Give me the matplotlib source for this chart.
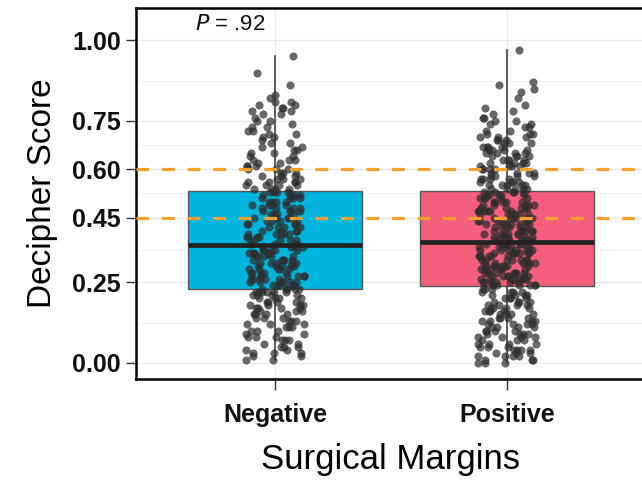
import numpy as np
import matplotlib
matplotlib.use("Agg")
import matplotlib.pyplot as plt

# Decipher scores, grouped by surgical margin status
groups = ["Negative", "Positive"]

negative_scores = [
    0.01, 0.01, 0.02, 0.02, 0.03, 0.03, 0.03, 0.04, 0.04, 0.05, 0.05, 0.05, 0.06, 0.06,
    0.07, 0.07, 0.07, 0.08, 0.08, 0.08, 0.09, 0.09, 0.10, 0.10, 0.10, 0.11, 0.11, 0.11,
    0.12, 0.12, 0.12, 0.13, 0.13, 0.13, 0.14, 0.14, 0.14, 0.15, 0.15, 0.15, 0.15, 0.16,
    0.16, 0.16, 0.17, 0.17, 0.17, 0.17, 0.18, 0.18, 0.18, 0.18, 0.19, 0.19, 0.19, 0.19,
    0.20, 0.20, 0.20, 0.20, 0.21, 0.21, 0.21, 0.21, 0.22, 0.22, 0.22, 0.22, 0.22, 0.22,
    0.23, 0.23, 0.23, 0.23, 0.23, 0.24, 0.24, 0.24, 0.24, 0.24, 0.25, 0.25, 0.25, 0.25,
    0.25, 0.25, 0.26, 0.26, 0.26, 0.26, 0.26, 0.27, 0.27, 0.27, 0.27, 0.27, 0.28, 0.28,
    0.28, 0.28, 0.28, 0.29, 0.29, 0.29, 0.29, 0.29, 0.30, 0.30, 0.30, 0.30, 0.30, 0.31,
    0.31, 0.31, 0.31, 0.31, 0.32, 0.32, 0.32, 0.32, 0.32, 0.33, 0.33, 0.33, 0.33, 0.33,
    0.34, 0.34, 0.34, 0.34, 0.34, 0.35, 0.35, 0.35, 0.35, 0.35, 0.36, 0.36, 0.36, 0.36,
    0.37, 0.37, 0.37, 0.37, 0.37, 0.38, 0.38, 0.38, 0.38, 0.39, 0.39, 0.39, 0.39, 0.40,
    0.40, 0.40, 0.40, 0.40, 0.41, 0.41, 0.41, 0.41, 0.42, 0.42, 0.42, 0.42, 0.43, 0.43,
    0.43, 0.43, 0.44, 0.44, 0.44, 0.44, 0.45, 0.45, 0.45, 0.45, 0.46, 0.46, 0.46, 0.46,
    0.47, 0.47, 0.47, 0.47, 0.48, 0.48, 0.48, 0.48, 0.49, 0.49, 0.49, 0.49, 0.50, 0.50,
    0.50, 0.50, 0.51, 0.51, 0.51, 0.51, 0.52, 0.52, 0.52, 0.52, 0.53, 0.53, 0.53, 0.53,
    0.54, 0.54, 0.54, 0.54, 0.55, 0.55, 0.55, 0.55, 0.56, 0.56, 0.56, 0.56, 0.57, 0.57,
    0.57, 0.58, 0.58, 0.58, 0.59, 0.59, 0.59, 0.60, 0.60, 0.60, 0.61, 0.61, 0.61, 0.62,
    0.62, 0.63, 0.63, 0.63, 0.64, 0.64, 0.65, 0.65, 0.66, 0.66, 0.67, 0.67, 0.68, 0.68,
    0.69, 0.70, 0.70, 0.71, 0.71, 0.72, 0.72, 0.73, 0.73, 0.74, 0.75, 0.75, 0.76, 0.77,
    0.77, 0.78, 0.78, 0.79, 0.79, 0.80, 0.80, 0.81, 0.81, 0.82, 0.83, 0.86, 0.90, 0.95,
]

positive_scores = [
    0.00, 0.00, 0.00, 0.01, 0.01, 0.01, 0.02, 0.02, 0.02, 0.02, 0.03, 0.03, 0.03, 0.04,
    0.04, 0.04, 0.04, 0.05, 0.05, 0.05, 0.06, 0.06, 0.06, 0.06, 0.07, 0.07, 0.07, 0.08,
    0.08, 0.08, 0.08, 0.09, 0.09, 0.09, 0.09, 0.10, 0.10, 0.10, 0.10, 0.11, 0.11, 0.11,
    0.11, 0.12, 0.12, 0.12, 0.12, 0.13, 0.13, 0.13, 0.13, 0.14, 0.14, 0.14, 0.14, 0.15,
    0.15, 0.15, 0.15, 0.16, 0.16, 0.16, 0.16, 0.17, 0.17, 0.17, 0.17, 0.18, 0.18, 0.18,
    0.18, 0.19, 0.19, 0.19, 0.19, 0.20, 0.20, 0.20, 0.20, 0.21, 0.21, 0.21, 0.21, 0.22,
    0.22, 0.22, 0.22, 0.23, 0.23, 0.23,
    0.24, 0.24, 0.24, 0.24, 0.24, 0.24, 0.24, 0.25, 0.25, 0.25, 0.25, 0.25, 0.25, 0.26,
    0.26, 0.26, 0.26, 0.26, 0.26, 0.26, 0.27, 0.27, 0.27, 0.27, 0.27, 0.27, 0.28, 0.28,
    0.28, 0.28, 0.28, 0.28, 0.28, 0.29, 0.29, 0.29, 0.29, 0.29, 0.29, 0.30, 0.30, 0.30,
    0.30, 0.30, 0.30, 0.30, 0.31, 0.31, 0.31, 0.31, 0.31, 0.31, 0.32, 0.32, 0.32, 0.32,
    0.32, 0.32, 0.32, 0.33, 0.33, 0.33, 0.33, 0.33, 0.33, 0.34, 0.34, 0.34, 0.34, 0.34,
    0.34, 0.34, 0.35, 0.35, 0.35, 0.35, 0.35, 0.35, 0.36, 0.36, 0.36, 0.36, 0.36, 0.36,
    0.37, 0.37, 0.37, 0.37, 0.37, 0.37,
    0.38, 0.38, 0.38, 0.38, 0.38, 0.38, 0.39, 0.39, 0.39, 0.39, 0.39, 0.39, 0.40, 0.40,
    0.40, 0.40, 0.40, 0.40, 0.41, 0.41, 0.41, 0.41, 0.41, 0.41, 0.42, 0.42, 0.42, 0.42,
    0.42, 0.42, 0.43, 0.43, 0.43, 0.43, 0.43, 0.43, 0.44, 0.44, 0.44, 0.44, 0.44, 0.44,
    0.45, 0.45, 0.45, 0.45, 0.45, 0.45, 0.46, 0.46, 0.46, 0.46, 0.46, 0.46, 0.47, 0.47,
    0.47, 0.47, 0.47, 0.47, 0.48, 0.48, 0.48, 0.48, 0.48, 0.49, 0.49, 0.49, 0.49, 0.49,
    0.50, 0.50, 0.50, 0.50, 0.50, 0.51, 0.51, 0.51, 0.51, 0.51, 0.52, 0.52, 0.52, 0.52,
    0.52, 0.53, 0.53, 0.53, 0.53, 0.53,
    0.54, 0.54, 0.54, 0.54, 0.54, 0.55, 0.55, 0.55, 0.55, 0.55, 0.56, 0.56, 0.56, 0.56,
    0.57, 0.57, 0.57, 0.57, 0.58, 0.58, 0.58, 0.58, 0.59, 0.59, 0.59, 0.59, 0.60, 0.60,
    0.60, 0.60, 0.61, 0.61, 0.61, 0.61, 0.62, 0.62, 0.62, 0.62, 0.63, 0.63, 0.63, 0.63,
    0.64, 0.64, 0.64, 0.64, 0.65, 0.65, 0.65, 0.65, 0.66, 0.66, 0.66, 0.66, 0.67, 0.67,
    0.67, 0.67, 0.68, 0.68, 0.68, 0.69, 0.69, 0.69, 0.70, 0.70, 0.70, 0.71, 0.71, 0.71,
    0.72, 0.72, 0.73, 0.73, 0.74, 0.74, 0.75, 0.75, 0.76, 0.76, 0.77, 0.78, 0.79, 0.80,
    0.82, 0.84, 0.85, 0.86, 0.87, 0.97,
]

y_ticks = [0.00, 0.25, 0.45, 0.60, 0.75, 1.00]
y_tick_labels = ["0.00", "0.25", "0.45", "0.60", "0.75", "1.00"]
y_minor = [0.125, 0.35, 0.525, 0.675, 0.875]
cutoffs = [0.45, 0.60]
p_label = ".92"

box_colors = ["#00b5dd", "#f45f7b"]
cutoff_color = "#f9a12c"
point_color = "#2e2e2e"


def jitter_offsets(n, width):
    # quadratic Weyl sequence: deterministic, spreads points without a visible lattice
    i = np.arange(n)
    frac = (i * 0.3819660113 + i * i * 0.0883883476) % 1.0
    return (frac - 0.5) * 2 * width


def draw_chart(outfile="out.png"):
    plt.rcParams["font.family"] = ["Liberation Sans", "DejaVu Sans"]
    fig = plt.figure(figsize=(6.42, 4.82), dpi=100)
    ax = fig.add_axes([0.2118, 0.2137, 0.7944, 0.7697])

    data = [negative_scores, positive_scores]
    positions = [1, 2]

    bp = ax.boxplot(data, positions=positions, widths=0.75, patch_artist=True,
                    showfliers=False, showcaps=False, whis=1.5,
                    medianprops=dict(color="#222222", linewidth=3.4, zorder=4),
                    whiskerprops=dict(color="#333333", linewidth=1.1, zorder=3.5),
                    boxprops=dict(edgecolor="#555555", linewidth=1.0))
    for patch, col in zip(bp["boxes"], box_colors):
        patch.set_facecolor(col)
        patch.set_zorder(1)

    for pos, vals in zip(positions, data):
        vals = np.asarray(vals)
        offs = jitter_offsets(len(vals), 0.125)
        ax.scatter(pos + offs, vals, s=34, color=point_color, alpha=0.72,
                   linewidths=0, zorder=3)

    for c in cutoffs:
        ax.axhline(c, color=cutoff_color, linewidth=2.3, dashes=(4, 4), zorder=5)

    ax.set_xlim(0.4, 2.6)
    ax.set_ylim(-0.05, 1.10)
    ax.set_yticks(y_ticks)
    ax.set_yticklabels(y_tick_labels)
    ax.set_yticks(y_minor, minor=True)
    ax.set_xticks(positions)
    ax.set_xticklabels(groups)

    ax.grid(True, which="major", color="#ebebeb", linewidth=0.9, zorder=0)
    ax.grid(True, which="minor", axis="y", color="#f3f3f3", linewidth=0.7, zorder=0)
    ax.set_axisbelow(True)

    for side in ["left", "bottom", "top", "right"]:
        ax.spines[side].set_linewidth(1.8)
        ax.spines[side].set_color("black")

    ax.tick_params(axis="y", which="major", length=7, width=1.0,
                   color="#333333", pad=4)
    ax.tick_params(axis="x", which="major", length=8, width=1.0,
                   color="#333333", pad=9)
    ax.tick_params(axis="y", which="minor", length=0)
    for lab in ax.get_yticklabels() + ax.get_xticklabels():
        lab.set_fontsize(18)
        lab.set_fontweight("bold")
        lab.set_color("#111111")

    ax.set_ylabel("Decipher Score", fontsize=24, labelpad=10)
    ax.set_xlabel("Surgical Margins", fontsize=25, labelpad=12)

    ax.text(0.655, 1.05, r"$\it{P}$ = " + p_label, fontsize=16,
            ha="left", va="center", color="#111111")

    fig.savefig(outfile, dpi=100)
    plt.close(fig)


if __name__ == "__main__":
    draw_chart()
